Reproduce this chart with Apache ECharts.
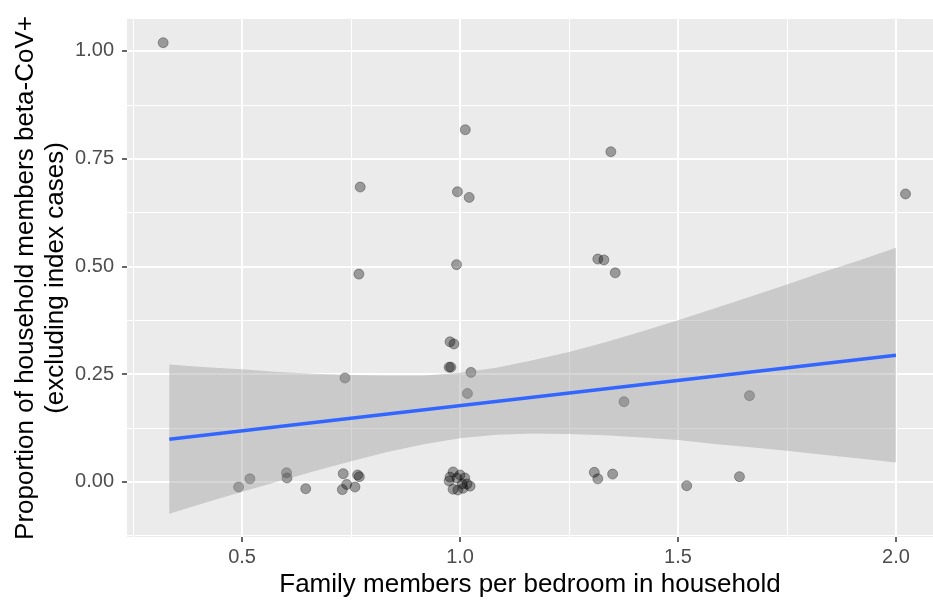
<!DOCTYPE html>
<html><head><meta charset="utf-8">
<script src="https://cdn.jsdelivr.net/npm/echarts/dist/echarts.min.js"></script>
<style>html,body{margin:0;padding:0;background:#fff}#c{width:933px;height:603px}</style>
</head><body><div id="c"></div>
<script>
// ---- data (points are jittered as drawn) ----
const pointX = [0.319, 1.012, 1.346, 0.771, 0.994, 1.021, 2.022, 1.316, 1.330, 1.356,
  0.768, 0.992, 0.977, 0.986, 0.975, 0.979, 1.025, 1.017, 0.736, 1.376,
  1.664, 0.492, 0.518, 0.602, 0.603, 0.646, 0.732, 0.730, 0.740, 0.759,
  0.765, 0.769, 1.308, 1.316, 1.350, 1.520, 1.641,
  0.984, 1.000, 0.975, 0.984, 1.005, 1.016, 0.977, 0.993, 1.011, 0.995, 1.007, 1.023];
const pointY = [1.019, 0.817, 0.766, 0.684, 0.673, 0.660, 0.668, 0.517, 0.515, 0.485,
  0.482, 0.504, 0.325, 0.320, 0.266, 0.266, 0.254, 0.205, 0.241, 0.186,
  0.200, -0.012, 0.007, 0.021, 0.009, -0.016, 0.019, -0.018, -0.006, -0.012,
  0.016, 0.012, 0.022, 0.007, 0.018, -0.009, 0.012,
  0.023, 0.016, 0.002, -0.017, -0.005, -0.005, 0.011, 0.009, 0.009, -0.019, -0.015, -0.010];
const fitX = [0.333, 2.0];
const fitY = [0.099, 0.294];
const bandX = [0.333, 0.417, 0.5, 0.583, 0.667, 0.75, 0.833, 0.917, 1.0, 1.083, 1.167,
  1.25, 1.333, 1.417, 1.5, 1.583, 1.667, 1.75, 1.833, 1.917, 2.0];
const bandLower = [-0.074, -0.048, -0.023, 0.001, 0.025, 0.048, 0.069, 0.087, 0.101, 0.109, 0.112,
  0.111, 0.108, 0.103, 0.097, 0.088, 0.080, 0.072, 0.063, 0.054, 0.045];
const bandUpper = [0.272, 0.266, 0.261, 0.255, 0.251, 0.248, 0.247, 0.247, 0.253, 0.265, 0.282,
  0.301, 0.324, 0.349, 0.375, 0.402, 0.430, 0.458, 0.487, 0.514, 0.543];
const xMajorTicks = [0.5, 1.0, 1.5, 2.0];
const xMinorTicks = [0.25, 0.75, 1.25, 1.75];
const yMajorTicks = [0.00, 0.25, 0.50, 0.75, 1.00];
const yMinorTicks = [-0.125, 0.125, 0.375, 0.625, 0.875];
const xTitle = 'Family members per bedroom in household';
const yTitle = 'Proportion of household members beta-CoV+\n(excluding index cases)';

// ---- layout ----
const CW = 933, CH = 603;
const PANEL = {left: 127, top: 19, right: 933, bottom: 537};
const X_RANGE = [0.236, 2.085], Y_RANGE = [-0.128, 1.074];
const FONT = "'Liberation Sans', Arial, Helvetica, sans-serif";
function px(x){ return PANEL.left + (x - X_RANGE[0]) / (X_RANGE[1] - X_RANGE[0]) * (PANEL.right - PANEL.left); }
function py(y){ return PANEL.top + (Y_RANGE[1] - y) / (Y_RANGE[1] - Y_RANGE[0]) * (PANEL.bottom - PANEL.top); }
const step = a => a[1] - a[0];

const hidden = (min, max) => ({type: 'value', show: false, min: min, max: max});
const base = {outerBoundsMode: 'none', containLabel: false};

const grids = [
  Object.assign({left: PANEL.left, top: PANEL.top, right: CW - PANEL.right, bottom: CH - PANEL.bottom,
    show: true, backgroundColor: '#EBEBEB', borderWidth: 0}, base),
  Object.assign({left: px(xMinorTicks[0]), right: CW - px(xMinorTicks[xMinorTicks.length-1]),
    top: PANEL.top, bottom: CH - PANEL.bottom}, base),
  Object.assign({left: px(xMajorTicks[0]), right: CW - px(xMajorTicks[xMajorTicks.length-1]),
    top: PANEL.top, bottom: CH - PANEL.bottom}, base),
  Object.assign({left: PANEL.left, right: CW - PANEL.right,
    top: py(yMinorTicks[yMinorTicks.length-1]), bottom: CH - py(yMinorTicks[0])}, base),
  Object.assign({left: PANEL.left, right: CW - PANEL.right,
    top: py(yMajorTicks[yMajorTicks.length-1]), bottom: CH - py(yMajorTicks[0])}, base)
];

const minorLine = {show: true, showMinLine: true, showMaxLine: true, lineStyle: {color: '#FFFFFF', width: 1}};
const majorLine = {show: true, showMinLine: true, showMaxLine: true, lineStyle: {color: '#FFFFFF', width: 2}};
const tickStyle = {show: true, length: 5, inside: false, lineStyle: {color: '#333333', width: 1.5}};
const labelStyle = {color: '#4D4D4D', fontSize: 20, fontFamily: FONT};

const xAxes = [
  {type: 'value', gridIndex: 0, min: X_RANGE[0], max: X_RANGE[1], show: true,
    axisLine: {show: false}, axisTick: {show: false}, axisLabel: {show: false}, splitLine: {show: false},
    name: xTitle, nameLocation: 'middle', nameGap: 35,
    nameTextStyle: {color: '#000000', fontSize: 26, fontFamily: FONT}},
  {type: 'value', gridIndex: 1, min: xMinorTicks[0], max: xMinorTicks[xMinorTicks.length-1], interval: step(xMinorTicks),
    axisLine: {show: false}, axisTick: {show: false}, axisLabel: {show: false}, splitLine: minorLine},
  {type: 'value', gridIndex: 2, min: xMajorTicks[0], max: xMajorTicks[xMajorTicks.length-1], interval: step(xMajorTicks),
    axisLine: {show: false}, axisTick: tickStyle, splitLine: majorLine,
    axisLabel: Object.assign({margin: 10, formatter: v => v.toFixed(1), showMinLabel: true, showMaxLabel: true, hideOverlap: false}, labelStyle)},
  Object.assign(hidden(0, 1), {gridIndex: 3}),
  Object.assign(hidden(0, 1), {gridIndex: 4})
];
const yAxes = [
  {type: 'value', gridIndex: 0, min: Y_RANGE[0], max: Y_RANGE[1], show: true,
    axisLine: {show: false}, axisTick: {show: false}, axisLabel: {show: false}, splitLine: {show: false},
    name: yTitle, nameLocation: 'middle', nameGap: 56,
    nameTextStyle: {color: '#000000', fontSize: 26, lineHeight: 30, fontFamily: FONT}},
  Object.assign(hidden(0, 1), {gridIndex: 1}),
  Object.assign(hidden(0, 1), {gridIndex: 2}),
  {type: 'value', gridIndex: 3, min: yMinorTicks[0], max: yMinorTicks[yMinorTicks.length-1], interval: step(yMinorTicks),
    axisLine: {show: false}, axisTick: {show: false}, axisLabel: {show: false}, splitLine: minorLine},
  {type: 'value', gridIndex: 4, min: yMajorTicks[0], max: yMajorTicks[yMajorTicks.length-1], interval: step(yMajorTicks),
    axisLine: {show: false}, axisTick: tickStyle, splitLine: majorLine,
    axisLabel: Object.assign({margin: 13, formatter: v => v.toFixed(2), showMinLabel: true, showMaxLabel: true, hideOverlap: false}, labelStyle)}
];

const chart = echarts.init(document.getElementById('c'), null, {renderer: 'canvas'});
chart.setOption({
  animation: false,
  backgroundColor: '#FFFFFF',
  grid: grids,
  xAxis: xAxes,
  yAxis: yAxes,
  series: [
    {type: 'scatter', xAxisIndex: 0, yAxisIndex: 0, z: 3, silent: true,
      data: pointX.map((x, i) => [x, pointY[i]]),
      symbol: 'circle', symbolSize: 10,
      itemStyle: {color: 'rgba(0,0,0,0.35)', borderColor: 'rgba(0,0,0,0.3)', borderWidth: 1, opacity: 1}},
    {type: 'custom', xAxisIndex: 0, yAxisIndex: 0, z: 4, silent: true,
      data: bandX.map((x, i) => [x, bandLower[i], bandUpper[i]]),
      renderItem: function (params, api) {
        if (params.dataIndex !== 0) return null;
        const up = [], lo = [];
        for (let i = 0; i < bandX.length; i++) {
          up.push(api.coord([bandX[i], bandUpper[i]]));
          lo.push(api.coord([bandX[i], bandLower[i]]));
        }
        return {type: 'polygon', shape: {points: up.concat(lo.reverse())},
          style: {fill: 'rgba(153,153,153,0.4)', stroke: null}};
      }},
    {type: 'line', xAxisIndex: 0, yAxisIndex: 0, z: 5, silent: true,
      data: fitX.map((x, i) => [x, fitY[i]]),
      symbol: 'none', lineStyle: {color: '#3366FF', width: 3.5}}
  ]
});
</script></body></html>
